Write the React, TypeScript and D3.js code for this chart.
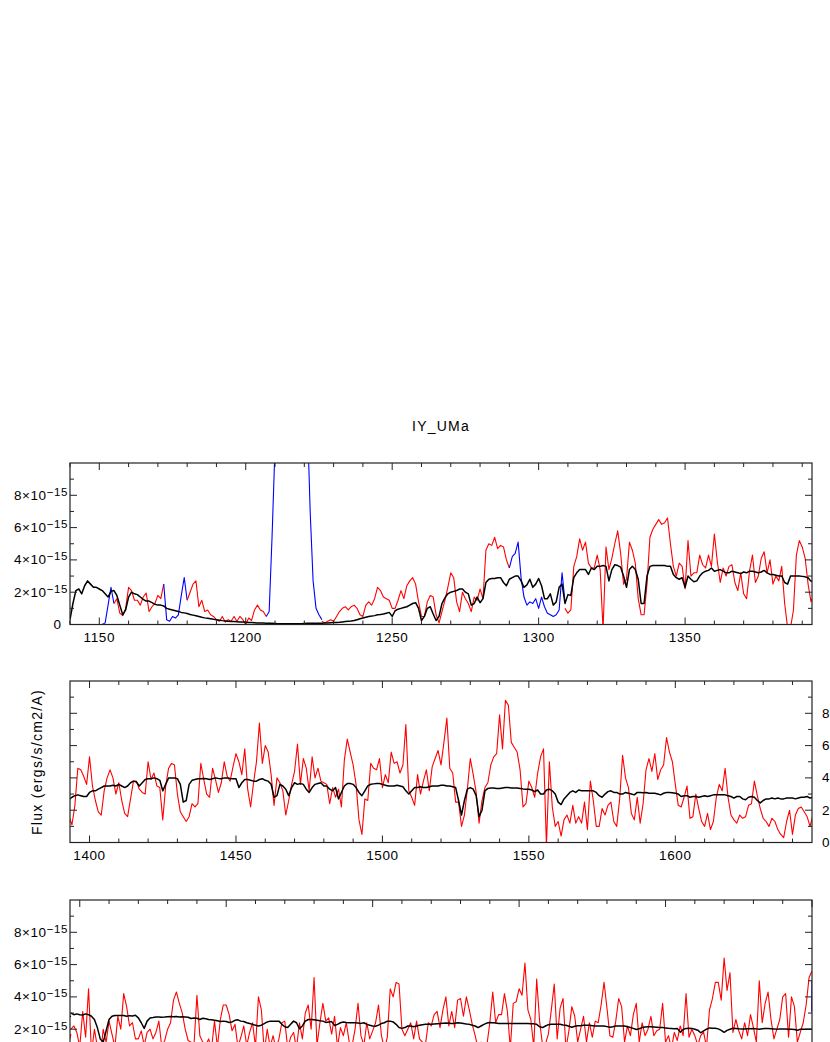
import React from 'react';
import * as d3 from 'd3';

// ---------- text ----------
const TITLE = 'IY_UMa';
const Y_LABEL = 'Flux (ergs/s/cm2/A)';

// ---------- panels (wavelength ranges, Å) ----------
const PANEL_RANGES: [number, number][] = [
  [1140, 1393.333],
  [1393.333, 1646.667],
  [1646.667, 1900],
];
const Y_DOMAIN: [number, number] = [0, 10]; // units of 1e-15
const Y_LABELLED = [0, 2, 4, 6, 8];

// ---------- observed spectrum segments (1 Å step, units 1e-15) ----------
const blueA_start = 1140;
const blueA = [0, 0, 0, 0, 0, 0, 0, 0, 0, 0, 0, 0, 0.1, 1.2, 2.3, 1.3];
const redA_start = 1155;
const redA = [1.3, 1.6, 0.7, 0.55, 1.0, 2.3, 2.1, 1.5, 1.5, 1.2, 1.7, 1.95, 0.8, 1.1, 1.3, 1.8, 1.6, 2.5];
const blueB_start = 1172;
const blueB = [2.5, 0.3, 0.2, 0.5, 0.4, 0.6, 1.8, 2.9, 1.5];
const redB_start = 1180;
const redB = [1.5, 2.0, 2.5, 2.7, 1.1, 1.5, 0.8, 0.9, 0.6, 0.5, 0.3, 0.2, 0.5, 0.15, 0.3, 0.2, 0.5, 0.2, 0.5, 0.3,
  0.0, 0.4, 0.25, 0.9, 1.2, 0.9, 0.8, 0.5];
const blueC_start = 1207;
const blueC = [0.5, 0.8, 5.5, 11, 15, 20, 25, 30, 30, 30, 25, 20, 17, 15, 13, 7, 2.7, 1.0, 0.6, 0.3];
const redC_start = 1226;
const redC = [0.2, 0.1, 0.2, 0.3, 0.2, 0.5, 0.8, 1.0, 1.1, 0.9,
  1.1, 1.2, 1.0, 0.6, 0.5, 1.2, 1.4, 1.2, 1.6, 2.3,
  2.1, 1.7, 1.6, 1.5, 1.0, 1.0, 1.5, 2.1, 1.6, 2.4,
  2.7, 2.9, 2.5, 1.4, 0.5, 0.5, 1.4, 1.8, 1.7, 0.6,
  0.1, 0.8, 1.5, 2.3, 3.2, 2.9, 1.4, 0.8, 2.0, 1.6,
  1.3, 0.8, 1.7, 1.5, 2.2, 1.6, 4.6, 5.0, 4.9, 5.4,
  4.7, 4.9, 4.8, 4.0, 3.5];
const blueD_start = 1290;
const blueD = [3.5, 4.2, 4.4, 5.1, 2.9, 1.7, 1.2, 1.4, 1.3, 1.6, 1.0, 1.7, 1.1, 0.7, 0.6, 0.5, 0.6, 0.9, 3.2, 1.4];
const redD_start = 1309;
const redD = [1.0, 0.7, 0.9, 3.6, 4.2, 5.3, 4.6, 5.1, 3.8, 3.5,
  3.5, 4.3, 3.4, -0.3, 4.8, 3.4, 4.1, 5.0, 5.8, 4.4,
  2.5, 2.8, 5.1, 4.6, 3.8, 1.6, 0.6, 0.6, 2.5, 5.4,
  5.9, 6.2, 6.5, 6.2, 6.3, 6.6, 5.0, 3.6, 3.0, 3.8,
  3.6, 2.2, 5.2, 3.0, 3.2, 3.2, 4.3, 3.7, 3.5, 4.3,
  3.6, 5.6, 3.9, 2.6, 3.5, 3.0, 3.6, 3.7, 2.6, 2.1,
  3.2, 1.9, 1.6, 3.3, 4.3, 2.6, 3.0, 4.1, 4.5, 3.2,
  4.0, 2.5, 3.0, 2.7, 3.6, 1.3, -0.2, -0.2, 0.9, 4.3,
  5.2, 4.8, 4.1, 2.5, 1.4];
const redE_start = 1393;
const redE = [1.6, 1.1, 2.3, 4.6, 4.5, 4.1, 3.6, 5.3, 3.5, 2.6,
  1.9, 1.7, 3.2, 4.0, 4.5, 4.0, 3.0, 3.7, 2.6, 1.8,
  1.6, 2.7, 3.8, 3.8, 3.3, 3.1, 3.0, 5.0, 3.9, 4.3,
  3.5, 3.4, 1.4, 3.5, 4.6, 4.9, 4.8, 3.0, 1.9, 1.6,
  1.3, 1.6, 2.4, 2.2, 2.4, 4.9, 3.9, 3.0, 2.8, 4.6,
  3.9, 3.1, 3.7, 5.0, 4.1, 3.8, 4.7, 5.5, 5.0, 4.2,
  5.8, 3.3, 2.2, 3.7, 5.0, 7.4, 4.9, 6.0, 5.6, 4.2,
  2.3, 4.0, 3.7, 3.2, 1.7, 2.6, 3.6, 4.4, 6.1, 3.6,
  5.2, 4.6, 3.2, 5.3, 4.0, 4.6, 3.8, 3.7, 3.6, 2.4,
  3.4, 2.8, 3.3, 2.2, 5.1, 6.4, 5.6, 4.8, 3.6, 1.4,
  0.5, 2.7, 2.6, 4.9, 4.6, 4.5, 5.2, 3.4, 4.2, 3.7,
  5.6, 4.9, 5.0, 4.3, 4.8, 7.3, 3.2, 2.8, 2.3, 4.2,
  3.0, 3.8, 4.5, 3.2, 4.7, 5.2, 5.7,
  4.8, 6.2, 7.7, 4.6, 4.3, 2.5, 2.5, 1.0, 1.7, 3.3,
  5.2, 4.2, 3.1, 1.2, 2.6, 3.4, 3.7, 4.8, 5.3, 5.5,
  7.9, 5.8, 8.8, 8.5, 6.2, 5.9, 5.6, 4.5, 2.2, 2.4,
  3.8, 3.4, 2.8, 4.3, 5.3, 5.8, -0.2, 5.0, 2.2, 1.0,
  1.3, 0.4, 1.4, 1.7, 1.2, 2.3, 1.2, 1.6, 1.2, 2.5,
  0.8, 3.8, 2.6, 1.0, 1.0, 2.1, 1.7, 2.3, 2.5, 1.3,
  1.0, 2.7, 5.4, 4.0, 3.4, 1.8, 1.4, 2.8, 1.2, 2.4,
  4.5, 5.2, 4.4, 5.5, 3.9, 4.5, 4.8, 6.5, 5.6, 5.0,
  3.6, 2.3, 2.2, 2.8, 3.5, 1.5, 1.6, 3.0, 2.1, 1.3,
  1.0, 1.8, 0.8, 1.3, 2.8, 3.6, 3.2, 4.6, 2.8, 1.7,
  1.4, 1.2, 1.7, 1.5, 1.6, 2.3, 2.4, 3.8, 2.9, 2.1,
  1.5, 1.3, 1.0, 1.5, 1.3, 0.8, 0.5, 0.3, 1.3, 2.0,
  0.5, 1.7, 2.1, 2.2, 1.9, 1.6, 1.0, 1.7];
const redF_start = 1647;
const redF = [2.0, 2.2, 1.8, 0.9, 3.1, 1.5, 4.5, 0.5, 2.0, 0.9,
  0.2, 2.0, 1.2, 2.5, 1.7, 0.9, 2.8, 2.0, 4.2, 3.4,
  2.2, 2.4, 1.4, 1.4, 1.9, 1.0, 1.8, 2.0, 1.4, 1.8,
  2.5, 0.9, 1.3, 2.0, 2.4, 3.8, 4.3, 3.6, 3.0, 2.0,
  1.3, 1.2, 1.0, 4.1, 1.6, 1.2, 1.0, 1.4, 0.8, 2.5,
  0.9, 2.6, 3.5, 3.5, 2.9, 1.9, 2.3, 0.9, 1.5, 2.2,
  1.0, 1.8, 2.4, 0.9, 4.0, 3.2, 0.6, 2.0, 0.9, 1.6,
  0.8, 1.4, 2.4, 2.5, 0.8, 1.5, 1.8, 0.8, 2.4, 1.4,
  3.0, 3.5, 2.0, 5.2, 1.0, 2.4, 3.6, 2.5, 2.7, 1.7,
  2.8, 0.9, 2.1, 1.6, 2.4, 1.2, 1.0, 2.0, 3.6, 1.6,
  1.0, 2.4, 1.4, 1.9, 2.4, 3.5, 1.6, 0.8, 1.5, 4.5,
  4.0, 4.9, 4.8, 2.0, 1.6, 2.0, 2.4, 1.4, 2.5,
  1.4, 1.2, 1.0, 2.4, 2.2, 2.9, 3.1, 2.1, 3.2, 4.0,
  2.2, 3.1, 2.1, 3.8, 3.9, 2.8, 4.0, 3.2, 2.3, 1.6,
  0.8, 1.2, 0.5, 1.0, 2.4, 4.3, 2.4, 2.9, 2.9, 4.2,
  3.1, 0.8, 3.6, 3.7, 4.5, 4.1, 6.1, 3.2, 2.6, 0.9,
  5.1, 2.5, 1.0, 1.1, 1.7, 3.2, 4.8, 1.4, 3.3, 3.9,
  0.8, 1.9, 3.4, 2.8, 1.2, 2.0, 2.8, 1.2, 2.4, 1.5,
  2.5, 2.4, 3.5, 4.9, 3.3, 1.6, 1.5, 2.5, 3.9, 3.4,
  1.2, 2.2, 1.6, 2.9, 3.6, 1.2, 2.4, 1.6, 2.0, 2.8,
  1.6, 1.9, 2.0, 3.6, 1.2, 1.6, 0.8, 1.8, 1.3, 2.2,
  1.6, 4.2, 1.5, 2.0, 1.6, 1.0, 1.6, 1.8, 0.9, 3.2,
  3.9, 4.9, 4.9, 3.8, 6.4, 4.4, 5.5, 1.8, 2.6, 1.9,
  1.4, 2.4, 1.6, 2.9, 2.1, 1.2, 5.0, 2.4, 3.6, 4.3,
  2.6, 1.4, 2.0, 2.6, 4.0, 4.2, 1.5, 4.0, 3.4, 1.2,
  1.8, 2.4, 3.5, 5.2, 5.6];
const blueE_start = 1899.9;
const blueE = [3.1, 5.0];
const blueE_step = 0.1;

// ---------- model spectrum (1 Å step, units 1e-15) ----------
const model1_start = 1140;
const model1 = [0.3, 1.3, 2.1, 2.2, 1.9, 2.4, 2.7, 2.5, 2.3, 2.3,
  2.2, 2.1, 1.9, 1.7, 2.05, 2.1, 1.8, 1.2, 0.6, 0.9,
  1.7, 2.0, 1.9, 1.85, 1.7, 1.55, 1.45, 1.45, 1.35, 1.25,
  1.2, 1.2, 1.15, 1.0, 0.95, 0.9, 0.85, 0.8, 0.75, 0.72,
  0.68, 0.62, 0.58, 0.54, 0.5, 0.45, 0.41, 0.38, 0.35, 0.32,
  0.3, 0.27, 0.24, 0.22, 0.2, 0.19, 0.18, 0.17, 0.16, 0.15,
  0.14, 0.13, 0.12, 0.11, 0.1, 0.1, 0.09, 0.08, 0.07, 0.07,
  0.06, 0.05, 0.05, 0.04, 0.04, 0.04, 0.04, 0.04, 0.05, 0.05,
  0.06, 0.07, 0.08, 0.08, 0.07, 0.07, 0.08, 0.09, 0.1, 0.11,
  0.12, 0.13, 0.14, 0.16, 0.18, 0.2, 0.22, 0.25, 0.3, 0.35,
  0.4, 0.45, 0.5, 0.52, 0.55, 0.6, 0.62, 0.65, 0.7, 0.75,
  0.5, 0.85, 0.95, 1.0, 1.05, 1.1, 1.2, 1.3, 1.35, 1.0,
  0.25, 0.5, 1.0, 1.1, 0.65, 0.25, 0.5, 1.3, 1.65, 1.9,
  2.0, 2.05, 2.1, 2.2, 2.2, 2.0, 1.9, 1.2, 1.3, 1.7,
  1.35, 1.6, 2.6, 2.8, 2.85, 2.85, 2.9, 2.9, 2.6, 2.4,
  2.8, 2.9, 3.0, 3.0, 2.7, 2.3, 2.45, 2.8, 2.3, 2.5,
  2.85, 2.4, 1.6, 1.6, 1.9, 1.2, 1.4, 2.3, 2.5, 1.3,
  1.85, 1.8, 2.9, 3.2, 3.4, 3.4, 3.4, 3.1, 3.5, 3.4,
  3.6, 3.6, 3.65, 3.6, 2.7, 3.4, 3.7, 3.65, 3.55, 3.0,
  2.3, 3.4, 3.6, 3.4, 2.8, 1.3, 1.3, 3.0, 3.6, 3.65,
  3.65, 3.65, 3.65, 3.65, 3.6, 3.6, 3.1, 2.9, 2.8, 2.9,
  2.3, 3.0, 2.8, 2.65, 2.7, 3.0, 3.2, 3.3, 3.35, 3.5,
  3.3, 3.35, 3.4, 3.3, 3.2, 3.2, 3.3, 3.25, 3.2, 3.15,
  3.25, 3.2, 3.3, 3.3, 3.25, 3.2, 3.25, 3.35, 3.2, 3.1,
  3.1, 3.05, 3.0, 3.0, 2.6, 2.5, 3.0, 3.0, 3.0, 3.0,
  2.98, 2.95, 2.9, 2.67];
const model2_start = 1393;
const model2 = [2.65, 2.8, 2.9, 2.95, 2.9, 2.85, 2.85, 3.1, 3.2, 3.2,
  3.3, 3.4, 3.5, 3.5, 3.5, 3.55, 3.5, 3.6, 3.5, 3.4,
  3.5, 3.7, 3.8, 3.75, 3.5, 3.7, 3.9, 3.95, 3.95, 4.0,
  3.95, 3.85, 3.2, 3.6, 4.0, 4.0, 4.0, 3.95, 3.6, 2.5,
  2.6, 3.6, 3.85, 3.9, 3.95, 3.95, 3.97, 3.95, 3.9, 3.95,
  4.0, 3.97, 3.95, 4.0, 4.0, 3.97, 3.95, 3.95, 3.4, 3.7,
  3.9, 3.9, 3.85, 3.8, 3.8, 3.9, 3.95, 3.85, 3.8, 3.6,
  2.8, 2.9, 3.6, 3.5, 3.3, 2.9, 3.4, 3.7, 3.6, 3.65,
  3.6, 3.3, 3.1, 3.4, 3.6, 3.65, 3.7, 3.5, 3.5, 3.3,
  3.2, 3.4, 2.7, 3.1, 3.5, 3.65, 3.65, 3.6, 3.4, 3.1,
  2.9, 3.2, 3.5, 3.6, 3.63, 3.65, 3.65, 3.6, 3.55, 3.5,
  3.5, 3.5, 3.55, 3.5, 3.45, 3.2, 3.0, 3.2, 3.4, 3.4,
  3.45, 3.4, 3.4, 3.45, 3.5, 3.5, 3.5,
  3.55, 3.55, 3.5, 3.5, 3.45, 3.4, 2.6, 1.7, 2.6, 3.3,
  3.4, 3.3, 2.9, 1.6, 2.0, 3.2, 3.35, 3.38, 3.38, 3.35,
  3.35, 3.38, 3.4, 3.4, 3.38, 3.38, 3.38, 3.35, 3.32, 3.3,
  3.3, 3.25, 3.15, 3.25, 3.0, 3.0, 3.25, 3.3, 3.2, 3.0,
  2.5, 2.35, 2.7, 2.9, 3.1, 3.2, 3.1, 3.25, 3.2, 3.2,
  3.2, 3.2, 3.2, 3.1, 2.9, 2.8, 3.0, 3.15, 3.2, 3.1,
  3.1, 3.0, 3.0, 3.1, 3.05, 3.0, 2.95, 3.1, 3.1, 3.08,
  3.1, 3.05, 3.05, 3.05, 3.0, 2.95, 3.05, 3.1, 3.1, 3.08,
  3.05, 3.0, 2.85, 2.9, 2.9, 2.8, 2.85, 2.85, 2.8, 2.85,
  2.9, 2.85, 2.9, 2.95, 2.95, 2.95, 2.95, 2.95, 2.9, 2.85,
  2.75, 2.85, 2.85, 2.7, 2.65, 2.8, 2.85, 2.8, 2.6, 2.45,
  2.6, 2.7, 2.7, 2.75, 2.7, 2.75, 2.7, 2.7, 2.75, 2.75,
  2.75, 2.7, 2.75, 2.8, 2.8, 2.85, 2.75, 2.8];
const model3_start = 1647;
const model3 = [3.0, 2.9, 2.95, 2.9, 2.88, 2.95, 2.9, 2.8, 2.6, 2.1,
  1.4, 1.2, 1.9, 2.6, 2.8, 2.85, 2.85, 2.85, 2.85, 2.8,
  2.84, 2.82, 2.86, 2.7, 2.4, 2.05, 2.5, 2.7, 2.72, 2.75,
  2.75, 2.74, 2.75, 2.77, 2.78, 2.77, 2.78, 2.76, 2.77, 2.76,
  2.74, 2.66, 2.7, 2.68, 2.6, 2.68, 2.65, 2.6, 2.58, 2.55,
  2.52, 2.48, 2.5, 2.48, 2.42, 2.45, 2.55, 2.58, 2.5, 2.48,
  2.4, 2.35, 2.3, 2.25, 2.2, 2.25, 2.35, 2.45, 2.5, 2.5,
  2.5, 2.5, 2.3, 2.15, 2.1, 2.3, 2.5, 2.4, 2.03, 2.2,
  2.5, 2.6, 2.6, 2.58, 2.55, 2.52, 2.5, 2.42, 2.45, 2.47,
  2.23, 2.3, 2.4, 2.45, 2.42, 2.4, 2.4, 2.4, 2.38, 2.36,
  2.4, 2.3, 2.25, 2.2, 2.18, 2.25, 2.35, 2.4, 2.5, 2.5,
  2.45, 2.3, 2.1, 2.05, 2.1, 2.2, 2.2, 2.15, 2.2,
  2.24, 2.28, 2.3, 2.3, 2.3, 2.32, 2.34, 2.35, 2.37, 2.38,
  2.37, 2.35, 2.37, 2.4, 2.38, 2.35, 2.32, 2.3, 2.25, 2.2,
  2.1, 2.2, 2.3, 2.38, 2.42, 2.4, 2.38, 2.36, 2.36, 2.36,
  2.35, 2.35, 2.35, 2.35, 2.35, 2.35, 2.35, 2.35, 2.34, 2.33,
  2.3, 2.15, 2.1, 2.2, 2.28, 2.3, 2.3, 2.3, 2.3, 2.26,
  2.24, 2.18, 2.12, 2.18, 2.22, 2.22, 2.24, 2.24, 2.24, 2.22,
  2.2, 2.2, 2.2, 2.2, 2.16, 2.12, 2.15, 2.2, 2.2, 2.2,
  2.2, 2.15, 2.1, 2.05, 1.98, 2.03, 2.1, 2.14, 2.15, 2.15,
  2.14, 2.12, 2.1, 2.1, 2.08, 2.06, 2.05, 2.03, 2.05, 1.82,
  1.98, 2.05, 2.06, 2.05, 2.0, 1.94, 1.78, 1.9, 2.0, 2.08,
  2.06, 2.06, 2.02, 1.93, 1.81, 1.93, 2.0, 2.06, 2.05, 2.03,
  2.02, 2.02, 2.03, 2.03, 2.04, 2.02, 2.0, 2.03, 2.05, 2.04,
  2.03, 2.02, 2.0, 2.02, 2.02, 2.01, 2.0, 2.0, 1.98, 1.93,
  2.0, 2.0, 2.0, 2.0, 2.0];

type Seg = { start: number; step: number; values: number[]; color: string; width: number };

const OBS_SEGMENTS: Seg[] = [
  { start: blueA_start, step: 1, values: blueA, color: '#0000ff', width: 1.1 },
  { start: redA_start, step: 1, values: redA, color: '#ff0000', width: 1.1 },
  { start: blueB_start, step: 1, values: blueB, color: '#0000ff', width: 1.1 },
  { start: redB_start, step: 1, values: redB, color: '#ff0000', width: 1.1 },
  { start: blueC_start, step: 1, values: blueC, color: '#0000ff', width: 1.1 },
  { start: redC_start, step: 1, values: redC, color: '#ff0000', width: 1.1 },
  { start: blueD_start, step: 1, values: blueD, color: '#0000ff', width: 1.1 },
  { start: redD_start, step: 1, values: redD, color: '#ff0000', width: 1.1 },
  { start: redE_start, step: 1, values: redE, color: '#ff0000', width: 1.1 },
  { start: redF_start, step: 1, values: redF, color: '#ff0000', width: 1.1 },
  { start: blueE_start, step: blueE_step, values: blueE, color: '#0000ff', width: 1.1 },
];
const MODEL_SEGMENTS: Seg[] = [
  { start: model1_start, step: 1, values: model1, color: '#000000', width: 1.5 },
  { start: model2_start, step: 1, values: model2, color: '#000000', width: 1.5 },
  { start: model3_start, step: 1, values: model3, color: '#000000', width: 1.5 },
];

// ---------- layout ----------
const W = 830;
const H = 1042;
const LEFT = 70;
const RIGHT = 812;
const PANEL_TOPS = [463, 681, 900];
const PANEL_H = 161.5;
const FONT = '"Liberation Sans", Arial, Helvetica, sans-serif';
const FRAME = '#222';

function Panel({ idx }: { idx: number }) {
  const [lo, hi] = PANEL_RANGES[idx];
  const top = PANEL_TOPS[idx];
  const bottom = top + PANEL_H;
  const x = d3.scaleLinear().domain([lo, hi]).range([LEFT, RIGHT]);
  const y = d3.scaleLinear().domain(Y_DOMAIN).range([bottom, top]);
  const line = d3
    .line<[number, number]>()
    .x((d) => x(d[0]))
    .y((d) => y(d[1]));
  const toPts = (s: Seg): [number, number][] => s.values.map((v, i) => [s.start + i * s.step, v]);
  const clipId = `clip${idx}`;

  const xTicks = d3.range(Math.ceil(lo / 10) * 10, hi + 0.001, 10);
  const yTicks = d3.range(Y_DOMAIN[0], Y_DOMAIN[1] + 0.001, 1);
  const labelY = bottom + 17;

  return (
    <g>
      <defs>
        <clipPath id={clipId}>
          <rect x={LEFT} y={top} width={RIGHT - LEFT} height={PANEL_H} />
        </clipPath>
      </defs>
      <g clipPath={`url(#${clipId})`}>
        {OBS_SEGMENTS.map((s, i) => (
          <path key={'o' + i} d={line(toPts(s)) || ''} fill="none" stroke={s.color} strokeWidth={s.width} strokeLinejoin="round" />
        ))}
        {MODEL_SEGMENTS.map((s, i) => (
          <path key={'m' + i} d={line(toPts(s)) || ''} fill="none" stroke={s.color} strokeWidth={s.width} strokeLinejoin="round" />
        ))}
      </g>
      {xTicks.map((t) => {
        const major = Math.round(t) % 50 === 0;
        const len = major ? 7 : 4;
        const px = x(t);
        return (
          <g key={'x' + t}>
            <line x1={px} x2={px} y1={bottom} y2={bottom - len} stroke={FRAME} strokeWidth={1} />
            <line x1={px} x2={px} y1={top} y2={top + len} stroke={FRAME} strokeWidth={1} />
            {major && labelY < H && (
              <text x={px} y={labelY} textAnchor="middle" fontSize={13.5} letterSpacing={0.6} fontFamily={FONT} fill="#000">
                {t}
              </text>
            )}
          </g>
        );
      })}
      {yTicks.map((t) => {
        const major = t % 2 === 0;
        const len = major ? 7 : 4;
        const py = y(t);
        if (t === 0 || t === 10) return null;
        return (
          <g key={'y' + t}>
            <line x1={LEFT} x2={LEFT + len} y1={py} y2={py} stroke={FRAME} strokeWidth={1} />
            <line x1={RIGHT} x2={RIGHT - len} y1={py} y2={py} stroke={FRAME} strokeWidth={1} />
          </g>
        );
      })}
      {Y_LABELLED.map((t) => {
        const py = y(t);
        if (py > H) return null;
        if (idx === 1) {
          return (
            <text key={'yl' + t} x={822} y={py + 4.5} textAnchor="start" fontSize={13.5} fontFamily={FONT} fill="#000">
              {t}
            </text>
          );
        }
        if (t === 0) {
          return (
            <text key={'yl' + t} x={61} y={py + 4.5} textAnchor="end" fontSize={13.5} fontFamily={FONT} fill="#000">
              0
            </text>
          );
        }
        return (
          <text key={'yl' + t} x={68} y={py + 4.5} textAnchor="end" fontSize={13.5} letterSpacing={0.6} fontFamily={FONT} fill="#000">
            {t}×10
            <tspan dy={-4} fontSize={11.5}>
              −15
            </tspan>
          </text>
        );
      })}
      <rect x={LEFT} y={top} width={RIGHT - LEFT} height={PANEL_H} fill="none" stroke={FRAME} strokeWidth={1.2} />
    </g>
  );
}

export default function App() {
  return (
    <div style={{ position: 'absolute', left: 0, top: 0, width: W, height: H, overflow: 'hidden', background: '#fff' }}>
      <svg width={W} height={H} style={{ display: 'block' }}>
        <rect x={0} y={0} width={W} height={H} fill="#fff" />
        <text x={441} y={431} textAnchor="middle" fontSize={14} letterSpacing={1.2} fontFamily={FONT} fill="#000">
          {TITLE}
        </text>
        {PANEL_RANGES.map((_, i) => (
          <Panel key={i} idx={i} />
        ))}
        <text
          transform={`translate(42, 762) rotate(-90)`}
          textAnchor="middle"
          fontSize={14}
          letterSpacing={1.3}
          fontFamily={FONT}
          fill="#000"
        >
          {Y_LABEL}
        </text>
      </svg>
    </div>
  );
}
